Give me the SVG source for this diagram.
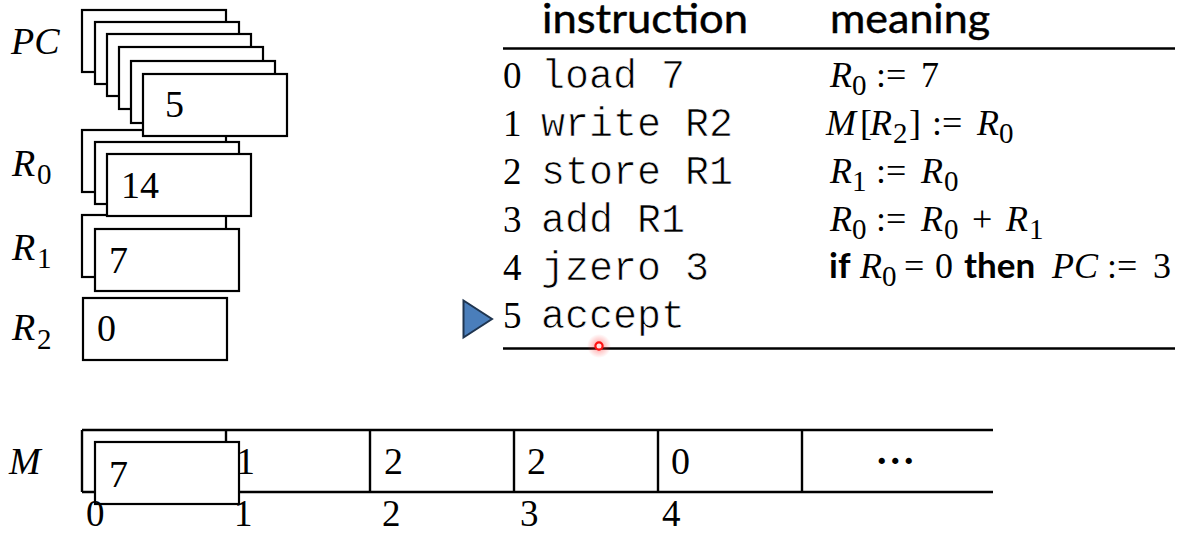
<svg xmlns="http://www.w3.org/2000/svg" width="1199" height="556" viewBox="0 0 1199 556">
  <style>
    .box { fill: #fff; stroke: #000; stroke-width: 2.2; }
    .rule { stroke: #000; stroke-width: 2.4; fill: none; }
    .num { font-family: "Liberation Serif", "Times New Roman", "DejaVu Serif", serif; font-size: 38px; fill: #000; }
    .lab { font-family: "Liberation Serif", "Times New Roman", "DejaVu Serif", serif; font-style: italic; font-size: 38px; fill: #000; }
    .sub { font-style: normal; font-size: 29px; }
    .mono { font-family: "Liberation Mono", "Courier New", monospace; font-size: 40px; fill: #000; stroke: #fff; stroke-width: 0.7px; }
    .row { font-family: "Liberation Serif", "Times New Roman", serif; font-size: 37px; fill: #000; }
    .idx { font-family: "Liberation Serif", "Times New Roman", serif; font-size: 37px; fill: #000; }
    .hdr { font-family: Lato, "Open Sans", sans-serif; font-size: 41px; fill: #000; stroke: #000; stroke-width: 0.45px; }
    .math { font-family: "Liberation Serif", "Times New Roman", serif; font-size: 36px; fill: #000; }
    .it { font-style: italic; }
    .ms { font-size: 29px; font-style: normal; }
    .kw { font-family: Lato, "Open Sans", sans-serif; font-weight: bold; font-size: 35px; }
  </style>
  <defs>
    <radialGradient id="glow">
      <stop offset="0" stop-color="#ff2020" stop-opacity="0.6"/>
      <stop offset="0.5" stop-color="#ff3030" stop-opacity="0.25"/>
      <stop offset="1" stop-color="#ff3030" stop-opacity="0"/>
    </radialGradient>
  </defs>

  <!-- register R2 -->
  <g id="reg-r2">
    <text class="lab" x="12" y="340">R<tspan class="sub" x="37" y="349">2</tspan></text>
    <rect class="box" x="83" y="298" width="144" height="62"/>
    <text class="num" x="97" y="341">0</text>
  </g>

  <!-- register R1 with history -->
  <g id="reg-r1">
    <text class="lab" x="12" y="260">R<tspan class="sub" x="37" y="268">1</tspan></text>
    <rect class="box" x="82" y="215" width="144" height="62"/>
    <rect class="box" x="95" y="229" width="144" height="62"/>
    <text class="num" x="109" y="273">7</text>
  </g>

  <!-- register R0 with history -->
  <g id="reg-r0">
    <text class="lab" x="12" y="176">R<tspan class="sub" x="37" y="184">0</tspan></text>
    <rect class="box" x="82" y="130" width="144" height="62"/>
    <rect class="box" x="95" y="142" width="144" height="62"/>
    <rect class="box" x="107" y="154" width="144" height="62"/>
    <text class="num" x="121" y="198">14</text>
  </g>

  <!-- program counter with history -->
  <g id="reg-pc">
    <text class="lab" x="11" y="54">PC</text>
    <rect class="box" x="82" y="10" width="144" height="62"/>
    <rect class="box" x="95" y="22" width="144" height="62"/>
    <rect class="box" x="107" y="34" width="144" height="62"/>
    <rect class="box" x="119" y="47" width="144" height="62"/>
    <rect class="box" x="131" y="61" width="144" height="62"/>
    <rect class="box" x="143" y="74" width="144" height="62"/>
    <text class="num" x="165" y="117">5</text>
  </g>

  <!-- program listing -->
  <g id="program">
    <text class="hdr" x="542" y="33" textLength="206" lengthAdjust="spacingAndGlyphs">instruction</text>
    <text class="hdr" x="830" y="33" textLength="160" lengthAdjust="spacingAndGlyphs">meaning</text>
    <line class="rule" x1="503" y1="48.5" x2="1175" y2="48.5"/>
    <line class="rule" x1="503" y1="348.5" x2="1175" y2="348.5"/>

    <text class="row" x="503" y="88">0</text>
    <text class="mono" x="541" y="88">load 7</text>
    <text class="row" x="503" y="136">1</text>
    <text class="mono" x="541" y="136">write R2</text>
    <text class="row" x="503" y="184">2</text>
    <text class="mono" x="541" y="184">store R1</text>
    <text class="row" x="503" y="232">3</text>
    <text class="mono" x="541" y="232">add R1</text>
    <text class="row" x="503" y="280">4</text>
    <text class="mono" x="541" y="280">jzero 3</text>
    <text class="row" x="503" y="328">5</text>
    <text class="mono" x="541" y="328">accept</text>

    <!-- meanings -->
    <text class="math" y="87"><tspan class="it" x="830">R</tspan><tspan class="ms" x="852" y="95">0</tspan><tspan x="876" y="87">:=</tspan><tspan x="921">7</tspan></text>
    <text class="math" y="135"><tspan class="it" x="826">M</tspan><tspan x="860">[</tspan><tspan class="it" x="870">R</tspan><tspan class="ms" x="893" y="143">2</tspan><tspan x="909" y="135">]</tspan><tspan x="932">:=</tspan><tspan class="it" x="977">R</tspan><tspan class="ms" x="999" y="143">0</tspan></text>
    <text class="math" y="183"><tspan class="it" x="830">R</tspan><tspan class="ms" x="852" y="191">1</tspan><tspan x="876" y="183">:=</tspan><tspan class="it" x="921">R</tspan><tspan class="ms" x="944" y="191">0</tspan></text>
    <text class="math" y="231"><tspan class="it" x="830">R</tspan><tspan class="ms" x="852" y="239">0</tspan><tspan x="876" y="231">:=</tspan><tspan class="it" x="921">R</tspan><tspan class="ms" x="944" y="239">0</tspan><tspan x="972" y="231">+</tspan><tspan class="it" x="1006">R</tspan><tspan class="ms" x="1029" y="239">1</tspan></text>
    <text class="math" y="278"><tspan class="kw" x="829">if</tspan><tspan class="it" x="860">R</tspan><tspan class="ms" x="882" y="286">0</tspan><tspan x="904" y="278">=</tspan><tspan x="935">0</tspan><tspan class="kw" x="964">then</tspan><tspan class="it" x="1052">PC</tspan><tspan x="1107">:=</tspan><tspan x="1153">3</tspan></text>

    <!-- current instruction marker -->
    <polygon points="463.5,300.5 492,319 463.5,337.5" fill="#4a7ebb" stroke="#1f3550" stroke-width="2" stroke-linejoin="miter"/>
  </g>

  <!-- memory tape -->
  <g id="memory">
    <text class="lab" x="9" y="474">M</text>
    <line class="rule" x1="82" y1="430" x2="993" y2="430"/>
    <line class="rule" x1="82" y1="492" x2="993" y2="492"/>
    <line class="rule" x1="82" y1="430" x2="82" y2="492"/>
    <line class="rule" x1="226" y1="430" x2="226" y2="492"/>
    <line class="rule" x1="370" y1="430" x2="370" y2="492"/>
    <line class="rule" x1="514" y1="430" x2="514" y2="492"/>
    <line class="rule" x1="658" y1="430" x2="658" y2="492"/>
    <line class="rule" x1="802" y1="430" x2="802" y2="492"/>
    <text class="num" x="236" y="474">1</text>
    <text class="num" x="384" y="474">2</text>
    <text class="num" x="527" y="474">2</text>
    <text class="num" x="671" y="474">0</text>
    <text class="num" x="877" y="464" font-size="44" font-weight="bold" letter-spacing="4">...</text>
    <rect class="box" x="95" y="442" width="144" height="62"/>
    <text class="num" x="109" y="487">7</text>
    <text class="idx" x="86" y="526">0</text>
    <text class="idx" x="234" y="526">1</text>
    <text class="idx" x="382" y="526">2</text>
    <text class="idx" x="520" y="526">3</text>
    <text class="idx" x="662" y="526">4</text>
  </g>

  <g id="connectors"/>

  <!-- pointer spot -->
  <g id="pointer">
    <circle cx="599" cy="346" r="12" fill="url(#glow)"/>
    <circle cx="599" cy="346" r="3.6" fill="#ffe0e0" stroke="#ff1010" stroke-width="2.2"/>
  </g>
</svg>
